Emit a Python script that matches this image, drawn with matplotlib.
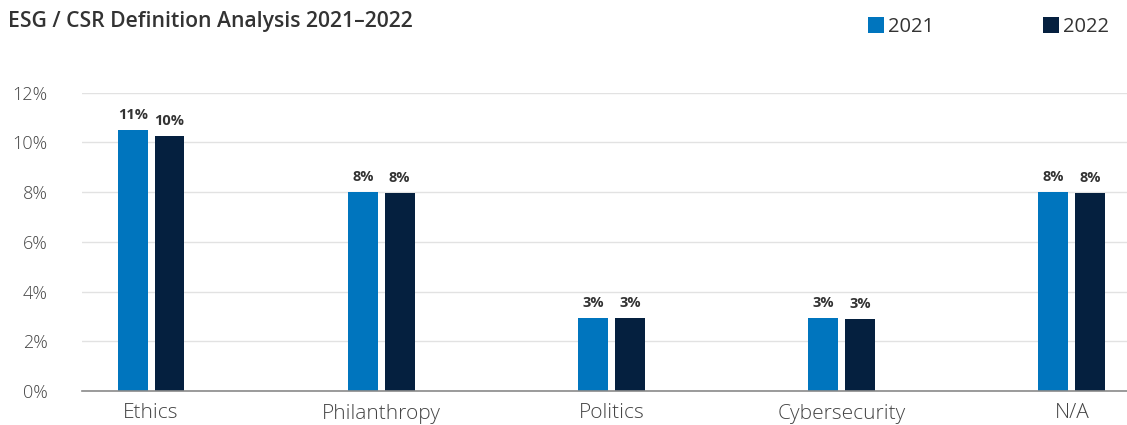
import numpy as np
import matplotlib.pyplot as plt

plt.rcParams['font.family'] = ['Open Sans', 'DejaVu Sans']

categories = ['Ethics', 'Philanthropy', 'Politics', 'Cybersecurity', 'N/A']
values_2021 = [10.5, 8.0, 2.93, 2.93, 8.0]
values_2022 = [10.26, 7.96, 2.93, 2.9, 7.96]
yticks = [0, 2, 4, 6, 8, 10, 12]

col_2021 = '#0075BE'
col_2022 = '#05203F'
text_col = '#333333'

fig = plt.figure(figsize=(11.27, 4.25), dpi=100)
ax = fig.add_axes([0.0728, 0.08, 0.9272, 0.702])

x = np.arange(len(categories))
w = 0.13
off = 0.08

b1 = ax.bar(x - off, values_2021, w, color=col_2021, label='2021', zorder=3)
b2 = ax.bar(x + off, values_2022, w, color=col_2022, label='2022', zorder=3)

for bars, vals in [(b1, values_2021), (b2, values_2022)]:
    ax.bar_label(bars, labels=[f'{int(v + 0.5)}%' for v in vals], padding=6,
                 fontsize=10.5, fontweight='bold', color=text_col)

ax.set_xlim(-0.30, 4.24)
ax.set_ylim(0, 12)
ax.set_yticks(yticks)
ax.set_yticklabels([f'{t}%' for t in yticks], fontweight='light')
ax.set_xticks(x)
ax.set_xticklabels(categories, fontweight='light')
ax.tick_params(axis='y', length=0, pad=25, labelsize=13, labelcolor='#444444')
ax.tick_params(axis='x', length=0, pad=9, labelsize=15, labelcolor='#444444')

ax.grid(axis='y', color='#e2e2e2', linewidth=1, zorder=0)
for s in ['top', 'right', 'left']:
    ax.spines[s].set_visible(False)
ax.spines['bottom'].set_color('#8a8a8a')
ax.spines['bottom'].set_linewidth(1.2)
ax.spines['bottom'].set_zorder(4)

fig.text(0.007, 1 - 27 / 425, 'ESG / CSR Definition Analysis 2021\u20132022',
         fontsize=15.2, fontweight='semibold', color=text_col, va='baseline', ha='left')

fig.legend(handles=[b1, b2], loc='upper right', bbox_to_anchor=(0.984, 0.96),
           ncol=2, frameon=False, fontsize=14.5, handlelength=0.8, handleheight=0.8,
           handletextpad=0.2, columnspacing=5.4, labelcolor=text_col,
           borderpad=0, borderaxespad=0)

fig.savefig('out.png', dpi=100)
